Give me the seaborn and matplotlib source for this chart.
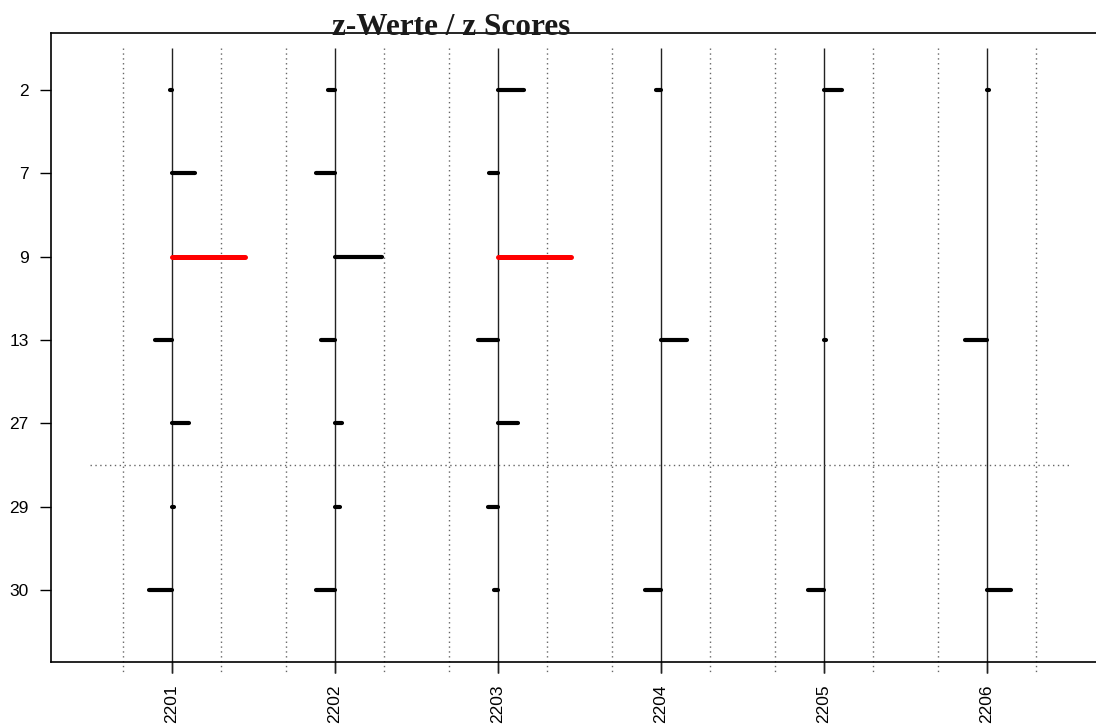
import matplotlib

matplotlib.use("Agg")

import matplotlib.pyplot as plt
import numpy as np
import pandas as pd
import seaborn as sns

# data: z score per item (row) and form (column)
FORMS = ["2201", "2202", "2203", "2204", "2205", "2206"]
ITEMS = ["2", "7", "9", "13", "27", "29", "30"]
Z_2201 = [-0.1, 1.4, 4.5, -1.05, 1.05, 0.0, -1.4]
Z_2202 = [-0.45, -1.15, 2.9, -0.85, 0.45, 0.3, -1.15]
Z_2203 = [1.6, -0.55, 4.5, -1.25, 1.25, -0.6, -0.25]
Z_2204 = [-0.3, np.nan, np.nan, 1.6, np.nan, np.nan, -1.0]
Z_2205 = [1.1, np.nan, np.nan, 0.0, np.nan, np.nan, -1.0]
Z_2206 = [0.0, np.nan, np.nan, -1.35, np.nan, np.nan, 1.45]
Z_LIMIT = 3.0
Z_SCALE = 0.1  # x units per z unit inside one column
SPLIT_AFTER = "27"

sns.set_theme(style="white")
plt.rcParams["font.family"] = ["Liberation Sans", "DejaVu Sans"]
plt.rcParams["text.color"] = "black"
plt.rcParams["xtick.color"] = "black"
plt.rcParams["ytick.color"] = "black"

df = pd.DataFrame(
    {f: z for f, z in zip(FORMS, [Z_2201, Z_2202, Z_2203, Z_2204, Z_2205, Z_2206])},
    index=ITEMS,
)
long = df.reset_index(names="item").melt(id_vars="item", var_name="form", value_name="z")
long = long.dropna()
long["xc"] = long["form"].map({f: i + 1 for i, f in enumerate(FORMS)})
long["yc"] = long["item"].map({it: i + 1 for i, it in enumerate(ITEMS)})
# zero-length segments would vanish, keep a hair of length so the round cap shows
long["x_end"] = long["xc"] + long["z"] * Z_SCALE + np.where(long["z"] == 0, 0.01, 0)
long["flag"] = long["z"].abs() > Z_LIMIT

fig = plt.figure(figsize=(10.96, 7.24), dpi=100)
ax = fig.add_axes([51 / 1096, 62 / 724, (1108 - 51) / 1096, (662 - 33) / 724])
ax.set_xlim(0.258, 6.742)
ax.set_ylim(7.864, 0.316)

ncol = len(FORMS)
nrow = len(ITEMS)
xs = np.arange(1, ncol + 1)

# guide lines per column (drawn past the box like the original)
ax.vlines(xs, 0.5, nrow + 1, color="#222222", lw=1.0, clip_on=False, zorder=1)
for off in (-Z_LIMIT * Z_SCALE, Z_LIMIT * Z_SCALE):
    ax.vlines(xs + off, 0.5, nrow + 1, color="#666666", lw=1.0,
              linestyles=(0, (1, 2.5)), clip_on=False, zorder=1)

split = ITEMS.index(SPLIT_AFTER) + 1.5
ax.hlines(split, 0.5, ncol + 0.5, color="#666666", lw=1.0,
          linestyles=(0, (1, 2.5)), zorder=1)

for flag, color, lw in [(False, "black", 3.0), (True, "#ff0000", 3.6)]:
    sub = long[long["flag"] == flag]
    lc = ax.hlines(sub["yc"], sub["xc"], sub["x_end"], color=color, lw=lw, zorder=3)
    lc.set_capstyle("round")

ax.set_xticks(xs)
ax.set_xticklabels(FORMS, rotation=90, fontsize=12.5)
ax.set_yticks(np.arange(1, nrow + 1))
ax.set_yticklabels(ITEMS, fontsize=12.5)
ax.tick_params(axis="both", direction="out", length=8, width=1.0, color="black",
               labelcolor="black", bottom=True, left=True, pad=8)
ax.tick_params(axis="x", pad=8)
for side in ["left", "top", "bottom"]:
    ax.spines[side].set_color("black")
    ax.spines[side].set_linewidth(1.2)
ax.spines["right"].set_visible(False)
ax.grid(False)

fig.text(451 / 1096, 1 - 35 / 724, "z-Werte / z Scores", ha="center", va="baseline",
         fontsize=22.5, fontweight="bold", family=["Liberation Serif", "DejaVu Serif"],
         color="#1a1a1a")

fig.savefig("out.png", dpi=100)
